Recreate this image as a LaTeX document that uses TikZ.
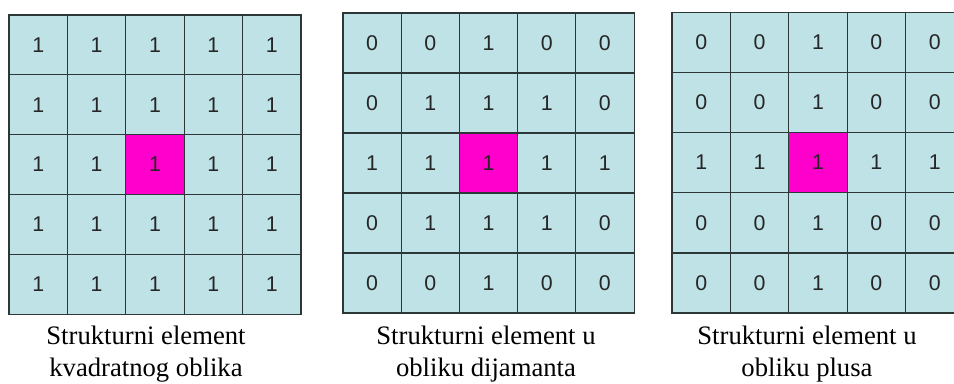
\documentclass[tikz,border=0pt]{standalone}
\usepackage{fontspec}
\setmainfont{Liberation Serif}
\newfontfamily\digitfont{Liberation Sans}
\definecolor{cellblue}{RGB}{190,226,229}
\definecolor{originpink}{RGB}{255,0,204}
\definecolor{gridline}{RGB}{45,55,55}
\tikzset{
  cell/.style= {draw=gridline, line width=0.9pt, minimum width=43.8pt, minimum height=45pt,
                inner sep=0, outer sep=0, text=black!85,
                font=\digitfont\fontsize{16}{16}\selectfont},
  caption/.style= {anchor=north, inner sep=0, align=center,
                   font=\fontsize{20}{24}\selectfont},
}

\begin{document}
\begin{tikzpicture}[x=0.75pt, y=-0.75pt]
  \useasboundingbox (0,0) rectangle (954,383) ;
  \clip (0,0) rectangle (954,383) ;

  % square
  \foreach \row [count=\r] in {{1,1,1,1,1},{1,1,1,1,1},{1,1,1,1,1},{1,1,1,1,1},{1,1,1,1,1}}
    \foreach \v [count=\c] in \row {
      \def\cellcol{cellblue}
      \ifnum\r\c=33 \def\cellcol{originpink}\fi
      \node [cell, fill=\cellcol] (sq-\r-\c) at ({9+(\c-0.5)*58.4},{15+(\r-0.5)*59.8}) {\v} ;
    }

  % diamond
  \foreach \row [count=\r] in {{0,0,1,0,0},{0,1,1,1,0},{1,1,1,1,1},{0,1,1,1,0},{0,0,1,0,0}}
    \foreach \v [count=\c] in \row {
      \def\cellcol{cellblue}
      \ifnum\r\c=33 \def\cellcol{originpink}\fi
      \node [cell, fill=\cellcol] (di-\r-\c) at ({343+(\c-0.5)*58.2},{13+(\r-0.5)*60}) {\v} ;
    }

  % plus
  \foreach \row [count=\r] in {{0,0,1,0,0},{0,0,1,0,0},{1,1,1,1,1},{0,0,1,0,0},{0,0,1,0,0}}
    \foreach \v [count=\c] in \row {
      \def\cellcol{cellblue}
      \ifnum\r\c=33 \def\cellcol{originpink}\fi
      \node [cell, fill=\cellcol] (pl-\r-\c) at ({672+(\c-0.5)*58.4},{12+(\r-0.5)*60.2}) {\v} ;
    }

  \node [caption] (cap-sq) at (146,326) {Strukturni element\\kvadratnog oblika} ;
  \node [caption] (cap-di) at (486,326) {Strukturni element u\\obliku dijamanta} ;
  \node [caption] (cap-pl) at (807,326) {Strukturni element u\\obliku plusa} ;
\end{tikzpicture}
\end{document}
